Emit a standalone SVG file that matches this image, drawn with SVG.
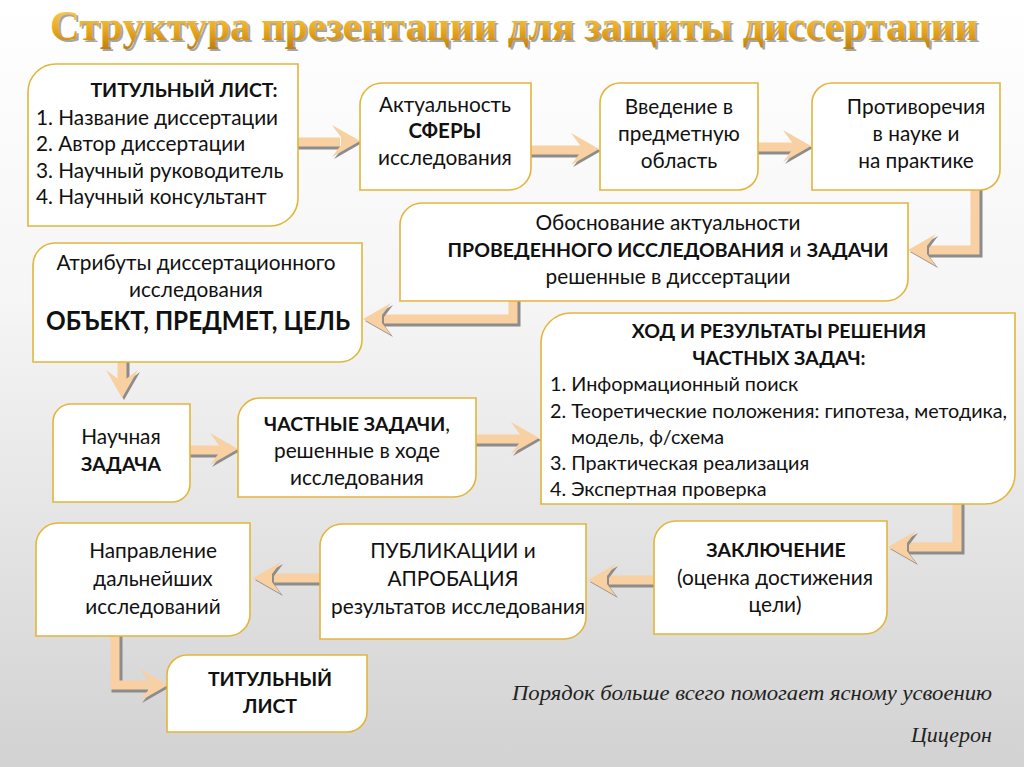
<svg xmlns="http://www.w3.org/2000/svg" width="1024" height="767" viewBox="0 0 1024 767">
<defs>
<linearGradient id="bg" x1="0" y1="0" x2="0" y2="1">
<stop offset="0" stop-color="#ffffff"/>
<stop offset="0.4" stop-color="#f5f5f5"/>
<stop offset="1" stop-color="#d2d2d2"/>
</linearGradient>
<linearGradient id="gold" x1="0" y1="0" x2="0" y2="1">
<stop offset="0" stop-color="#fbd56a"/>
<stop offset="0.55" stop-color="#eaab22"/>
<stop offset="1" stop-color="#bd7f10"/>
</linearGradient>
<g id="head">
<polygon points="0,0 -28,-16 -19,-4 -19,4 -28,16" />
</g>
<style>
.box{fill:#ffffff;stroke:#e2b53c;stroke-width:1.6}
.t{font-family:Lato,"Open Sans",sans-serif;font-size:20.8px;fill:#111;text-anchor:middle}
.l{font-family:Lato,"Open Sans",sans-serif;font-size:20.8px;fill:#111}
.s{font-size:19.8px}
.b{font-weight:bold;font-size:19.5px}
.sh{fill:none;stroke:#8c8c8c;stroke-width:11;stroke-linejoin:miter}
.sf{fill:none;stroke:#f8d0a2;stroke-width:9;stroke-linejoin:miter}
.hs{fill:#8c8c8c}
.hf{fill:#f8d0a2}
.q{font-family:"Liberation Serif",serif;font-style:italic;font-size:22px;fill:#222}
</style>
</defs>
<rect width="1024" height="767" fill="url(#bg)"/>

<g id="title">
<text x="50" y="40" font-family="Liberation Serif,serif" font-weight="bold" font-size="42" fill="#6b6b6b" textLength="928" lengthAdjust="spacingAndGlyphs" transform="translate(2,2)" opacity="0.6">Структура презентации для защиты диссертации</text>
<text x="50" y="40" font-family="Liberation Serif,serif" font-weight="bold" font-size="42" fill="url(#gold)" textLength="928" lengthAdjust="spacingAndGlyphs">Структура презентации для защиты диссертации</text>
</g>

<g id="connectors">
<g>
<path class="sh" d="M298,144 H340"/><path class="sf" d="M298,142 H340"/>
<use href="#head" class="hs" transform="translate(362,143)"/><use href="#head" class="hf" transform="translate(360,141)"/>
</g>
<g>
<path class="sh" d="M531,152 H580"/><path class="sf" d="M531,150 H580"/>
<use href="#head" class="hs" transform="translate(601,151)"/><use href="#head" class="hf" transform="translate(599,149)"/>
</g>
<g>
<path class="sh" d="M758,149 H792"/><path class="sf" d="M758,147 H792"/>
<use href="#head" class="hs" transform="translate(813,148)"/><use href="#head" class="hf" transform="translate(811,146)"/>
</g>
<g>
<path class="sh" d="M977,190 V252 H928"/><path class="sf" d="M975,190 V250 H928"/>
<use href="#head" class="hs" transform="translate(910,252) rotate(180)"/><use href="#head" class="hf" transform="translate(908,250) rotate(180)"/>
</g>
<g>
<path class="sh" d="M515,301 V321 H382"/><path class="sf" d="M513,301 V319 H382"/>
<use href="#head" class="hs" transform="translate(365,321) rotate(180)"/><use href="#head" class="hf" transform="translate(363,319) rotate(180)"/>
</g>
<g>
<path class="sh" d="M124,362 V382"/><path class="sf" d="M122,362 V382"/>
<use href="#head" class="hs" transform="translate(124,400) rotate(90)"/><use href="#head" class="hf" transform="translate(122,398) rotate(90)"/>
</g>
<g>
<path class="sh" d="M190,452 H220"/><path class="sf" d="M190,450 H220"/>
<use href="#head" class="hs" transform="translate(240,451)"/><use href="#head" class="hf" transform="translate(238,449)"/>
</g>
<g>
<path class="sh" d="M476,441 H520"/><path class="sf" d="M476,439 H520"/>
<use href="#head" class="hs" transform="translate(541,440)"/><use href="#head" class="hf" transform="translate(539,438)"/>
</g>
<g>
<path class="sh" d="M959,504 V549 H905"/><path class="sf" d="M957,504 V547 H905"/>
<use href="#head" class="hs" transform="translate(890,549) rotate(180)"/><use href="#head" class="hf" transform="translate(888,547) rotate(180)"/>
</g>
<g>
<path class="sh" d="M654,582 H606"/><path class="sf" d="M654,580 H606"/>
<use href="#head" class="hs" transform="translate(590,582) rotate(180)"/><use href="#head" class="hf" transform="translate(588,580) rotate(180)"/>
</g>
<g>
<path class="sh" d="M320,580 H272"/><path class="sf" d="M320,578 H272"/>
<use href="#head" class="hs" transform="translate(255,580) rotate(180)"/><use href="#head" class="hf" transform="translate(253,578) rotate(180)"/>
</g>
<g>
<path class="sh" d="M117,636 V687 H148"/><path class="sf" d="M115,636 V685 H148"/>
<use href="#head" class="hs" transform="translate(170,687)"/><use href="#head" class="hf" transform="translate(168,685)"/>
</g>
</g>

<g id="n1">
<path class="box" d="M56,64 H298 V198 A28,28 0 0 1 270,226 H28 V92 A28,28 0 0 1 56,64 Z"/>
<text class="t b" x="184" y="97">ТИТУЛЬНЫЙ ЛИСТ:</text>
<text class="l" x="36" y="125">1. Название диссертации</text>
<text class="l" x="36" y="151">2. Автор диссертации</text>
<text class="l" x="36" y="178">3. Научный руководитель</text>
<text class="l" x="36" y="204">4. Научный консультант</text>
</g>

<g id="n2">
<path class="box" d="M382,83 H531 V168 A22,22 0 0 1 509,190 H360 V105 A22,22 0 0 1 382,83 Z"/>
<text class="t" x="445" y="112">Актуальность</text>
<text class="t b" x="445" y="138" style="font-size:20.5px">СФЕРЫ</text>
<text class="t" x="445" y="165">исследования</text>
</g>

<g id="n3">
<path class="box" d="M620,83 H758 V170 A20,20 0 0 1 738,190 H600 V103 A20,20 0 0 1 620,83 Z"/>
<text class="t" x="679" y="114">Введение в</text>
<text class="t" x="679" y="141">предметную</text>
<text class="t" x="679" y="168">область</text>
</g>

<g id="n4">
<path class="box" d="M832,83 H1000 V170 A20,20 0 0 1 980,190 H812 V103 A20,20 0 0 1 832,83 Z"/>
<text class="t" x="916" y="114">Противоречия</text>
<text class="t" x="916" y="141">в науке и</text>
<text class="t" x="916" y="168">на практике</text>
</g>

<g id="n5">
<path class="box" d="M422,203 H908 V279 A22,22 0 0 1 886,301 H400 V225 A22,22 0 0 1 422,203 Z"/>
<text class="t" x="668" y="230">Обоснование актуальности</text>
<text class="t" x="668" y="257"><tspan class="b">ПРОВЕДЕННОГО ИССЛЕДОВАНИЯ</tspan> и <tspan class="b">ЗАДАЧИ</tspan></text>
<text class="t" x="668" y="284">решенные в диссертации</text>
</g>

<g id="n6">
<path class="box" d="M55,243 H362 V340 A22,22 0 0 1 340,362 H33 V265 A22,22 0 0 1 55,243 Z"/>
<text class="t" x="196" y="270">Атрибуты диссертационного</text>
<text class="t" x="196" y="297">исследования</text>
<text class="t b" x="198" y="330" style="font-size:27px" textLength="304" lengthAdjust="spacingAndGlyphs">ОБЪЕКТ, ПРЕДМЕТ, ЦЕЛЬ</text>
</g>

<g id="n7">
<path class="box" d="M571,313 H1015 V474 A30,30 0 0 1 985,504 H541 V343 A30,30 0 0 1 571,313 Z"/>
<text class="t b" x="779" y="338">ХОД И РЕЗУЛЬТАТЫ РЕШЕНИЯ</text>
<text class="t b" x="779" y="365">ЧАСТНЫХ ЗАДАЧ:</text>
<text class="l s" x="550" y="391">1. Информационный поиск</text>
<text class="l s" x="550" y="418">2. Теоретические положения: гипотеза, методика,</text>
<text class="l s" x="571" y="444">модель, ф/схема</text>
<text class="l s" x="550" y="470">3. Практическая реализация</text>
<text class="l s" x="550" y="496">4. Экспертная проверка</text>
</g>

<g id="n8">
<path class="box" d="M71,404 H190 V484 A18,18 0 0 1 172,502 H53 V422 A18,18 0 0 1 71,404 Z"/>
<text class="t" x="121" y="444">Научная</text>
<text class="t b" x="121" y="471">ЗАДАЧА</text>
</g>

<g id="n9">
<path class="box" d="M260,398 H476 V475 A22,22 0 0 1 454,497 H238 V420 A22,22 0 0 1 260,398 Z"/>
<text class="t" x="357" y="431"><tspan class="b">ЧАСТНЫЕ ЗАДАЧИ</tspan>,</text>
<text class="t" x="357" y="458">решенные в ходе</text>
<text class="t" x="357" y="485">исследования</text>
</g>

<g id="n10">
<path class="box" d="M676,521 H887 V612 A22,22 0 0 1 865,634 H654 V543 A22,22 0 0 1 676,521 Z"/>
<text class="t b" x="776" y="557">ЗАКЛЮЧЕНИЕ</text>
<text class="t" x="775" y="585">(оценка достижения</text>
<text class="t" x="775" y="612">цели)</text>
</g>

<g id="n11">
<path class="box" d="M342,524 H586 V617 A22,22 0 0 1 564,639 H320 V546 A22,22 0 0 1 342,524 Z"/>
<text class="t" x="453" y="558">ПУБЛИКАЦИИ и</text>
<text class="t" x="453" y="586">АПРОБАЦИЯ</text>
<text class="t" x="458" y="614">результатов исследования</text>
</g>

<g id="n12">
<path class="box" d="M58,523 H250 V614 A22,22 0 0 1 228,636 H36 V545 A22,22 0 0 1 58,523 Z"/>
<text class="t" x="153" y="558">Направление</text>
<text class="t" x="153" y="586">дальнейших</text>
<text class="t" x="153" y="614">исследований</text>
</g>

<g id="n13">
<path class="box" d="M187,655 H367 V712 A20,20 0 0 1 347,732 H167 V675 A20,20 0 0 1 187,655 Z"/>
<text class="t b" x="270" y="686">ТИТУЛЬНЫЙ</text>
<text class="t b" x="270" y="713">ЛИСТ</text>
</g>

<g id="quote">
<text class="q" x="992" y="700" text-anchor="end" textLength="480" lengthAdjust="spacingAndGlyphs">Порядок больше всего помогает ясному усвоению</text>
<text class="q" x="992" y="742" text-anchor="end">Цицерон</text>
</g>
</svg>
